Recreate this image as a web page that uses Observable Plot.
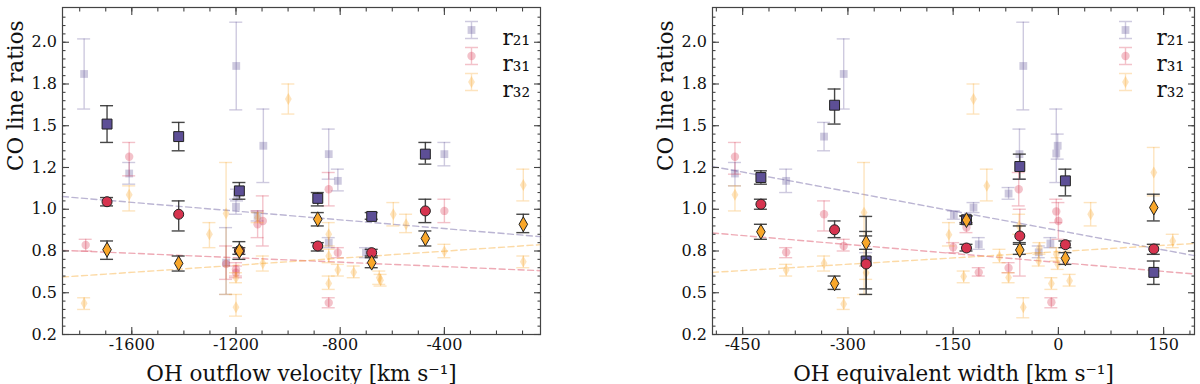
<!DOCTYPE html>
<html><head><meta charset="utf-8">
<script src="https://cdn.jsdelivr.net/npm/d3@7"></script>
<script src="https://cdn.jsdelivr.net/npm/@observablehq/plot@0.6"></script>
<style>
body{margin:0;background:#fff;}
#wrap{display:flex;width:1200px;height:384px;overflow:hidden;}
#wrap svg{display:block;flex:none;font-family:"DejaVu Serif" !important;}
#wrap svg text, #wrap svg g{font-family:"DejaVu Serif" !important;}
#wrap svg g[aria-label$="tick label"]{font-size:16px !important;}
</style></head><body><div id="wrap"></div>
<script>
// ---------- shared ----------
const seriesKeys = ["r21", "r31", "r32"];
const seriesLabels = ["r₂₁", "r₃₁", "r₃₂"];
const seriesColors = ["#5d4f96", "#d6344f", "#f9a72a"];
const seriesSymbols = ["square", "circle", "diamond"];
const yLabel = "CO line ratios";
const yDomain = [0.25, 2.208];
const yTicks = [0.25, 0.5, 0.75, 1.0, 1.25, 1.5, 1.75, 2.0];
const yTickLabels = ["0.2", "0.5", "0.8", "1.0", "1.2", "1.5", "1.8", "2.0"];

// ---------- left panel: OH outflow velocity ----------
const velLabel = "OH outflow velocity [km s⁻¹]";
const velDomain = [-1866, -31];
const velTicks = [-1600, -1200, -800, -400];
const velTickLabels = ["-1600", "-1200", "-800", "-400"];
const velMinorStep = 100;

const velX = [-1695, -1420, -1187, -886, -679, -473, -97];
const velR21 = [1.51, 1.435, 1.11, 1.065, 0.957, 1.33, null];
const velR21Err = [[1.40, 1.62], [1.35, 1.52], [1.06, 1.16], [1.02, 1.10], [0.94, 0.98], [1.27, 1.40], null];
const velR31 = [1.045, 0.97, 0.752, 0.78, 0.74, 0.99, null];
const velR31Err = [[1.02, 1.07], [0.87, 1.05], [0.70, 0.806], [0.75, 0.80], [0.72, 0.76], [0.92, 1.06], null];
const velR32 = [0.758, 0.676, 0.75, 0.94, 0.68, 0.825, 0.91];
const velR32Err = [[0.70, 0.81], [0.63, 0.72], [0.73, 0.77], [0.90, 0.98], [0.65, 0.71], [0.78, 0.87], [0.86, 0.97]];

// faded (full sample): [x, value, low, high]
const velAllR21 = [
  [-1783, 1.81, 1.60, 2.02], [-1610, 1.214, 1.15, 1.28], [-1238, 0.68, 0.49, 0.89],
  [-1200, 1.015, 0.97, 1.06], [-1196, 1.09, 1.05, 1.12], [-1199, 1.858, 1.595, 2.12],
  [-1117, 0.96, 0.93, 0.99], [-1095, 1.38, 1.16, 1.60], [-844, 1.33, 1.18, 1.48],
  [-809, 1.17, 1.11, 1.24], [-844, 0.80, 0.77, 0.83], [-701, 0.74, 0.71, 0.77],
  [-400, 1.33, 1.26, 1.40]
];
const velAllR31 = [
  [-1777, 0.786, 0.75, 0.82], [-1610, 1.314, 1.20, 1.40], [-1238, 0.672, 0.58, 0.78],
  [-1200, 0.64, 0.60, 0.68], [-1200, 0.62, 0.59, 0.66], [-1117, 0.91, 0.83, 0.99],
  [-1097, 0.93, 0.78, 1.08], [-844, 1.12, 1.02, 1.22], [-809, 0.74, 0.71, 0.77],
  [-844, 0.44, 0.41, 0.47], [-400, 0.99, 0.92, 1.06]
];
const velAllR32 = [
  [-1783, 0.437, 0.40, 0.47], [-1610, 1.087, 0.99, 1.14], [-1302, 0.85, 0.77, 0.92],
  [-1238, 0.975, 0.49, 1.28], [-1200, 0.413, 0.36, 0.49], [-1200, 0.59, 0.56, 0.62],
  [-1097, 0.676, 0.63, 0.72], [-999, 1.66, 1.57, 1.75], [-1117, 0.95, 0.92, 0.98],
  [-844, 0.85, 0.78, 0.92], [-844, 0.72, 0.68, 0.76], [-844, 0.556, 0.52, 0.60],
  [-809, 0.636, 0.60, 0.67], [-748, 0.622, 0.59, 0.66], [-650, 0.59, 0.55, 0.63],
  [-645, 0.575, 0.54, 0.61], [-596, 0.97, 0.90, 1.04], [-547, 0.91, 0.86, 0.97],
  [-400, 0.748, 0.71, 0.79], [-97, 1.145, 1.05, 1.24], [-97, 0.686, 0.65, 0.72]
];
// dashed linear fits, values at the two ends of the x range
const velFitR21 = [1.076, 0.836];
const velFitR31 = [0.754, 0.632];
const velFitR32 = [0.594, 0.788];

// ---------- right panel: OH equivalent width ----------
const ewLabel = "OH equivalent width [km s⁻¹]";
const ewDomain = [-493, 194];
const ewTicks = [-450, -300, -150, 0, 150];
const ewTickLabels = ["-450", "-300", "-150", "0", "150"];
const ewMinorStep = 37.5;

const ewX = [-424, -319, -274, -131, -55, 10, 136];
const ewR21 = [1.19, 1.623, 0.69, 0.937, 1.256, 1.17, 0.622];
const ewR21Err = [[1.15, 1.23], [1.51, 1.72], [0.49, 0.957], [0.92, 0.96], [1.18, 1.33], [1.08, 1.24], [0.55, 0.69]];
const ewR31 = [1.03, 0.877, 0.672, 0.768, 0.84, 0.788, 0.762];
const ewR31Err = [[1.0, 1.06], [0.83, 0.93], [0.523, 0.867], [0.75, 0.79], [0.79, 0.90], [0.77, 0.81], [0.73, 0.79]];
const ewR32 = [0.865, 0.556, 0.80, 0.935, 0.756, 0.706, 1.01];
const ewR32Err = [[0.82, 0.91], [0.52, 0.60], [0.76, 0.84], [0.91, 0.96], [0.73, 0.80], [0.67, 0.74], [0.93, 1.09]];

const ewAllR21 = [
  [-461, 1.214, 1.14, 1.28], [-388, 1.17, 1.10, 1.24], [-334, 1.435, 1.35, 1.52],
  [-306, 1.81, 1.60, 2.02], [-274, 0.70, 0.66, 0.74], [-149, 0.967, 0.94, 0.99],
  [-121, 1.01, 0.98, 1.04], [-113.5, 0.79, 0.76, 0.83], [-71, 1.094, 1.06, 1.13],
  [-55.5, 1.33, 1.18, 1.48], [-50, 1.858, 1.595, 2.12], [-28, 0.742, 0.71, 0.78],
  [-11.4, 0.795, 0.77, 0.83], [-3, 1.334, 1.16, 1.60], [-1, 1.38, 1.30, 1.45]
];
const ewAllR31 = [
  [-461, 1.314, 1.21, 1.40], [-388, 0.742, 0.71, 0.77], [-334, 0.97, 0.87, 1.05],
  [-306, 0.78, 0.75, 0.82], [-150, 0.772, 0.74, 0.80], [-131, 0.89, 0.86, 0.92],
  [-113.5, 0.622, 0.60, 0.65], [-71, 0.648, 0.62, 0.68], [-56.5, 1.12, 1.02, 1.22],
  [-55, 0.84, 0.60, 1.0], [-10, 0.443, 0.41, 0.47], [-3, 0.987, 0.92, 1.06],
  [0, 0.93, 0.82, 1.04]
];
const ewAllR32 = [
  [-461, 1.087, 0.99, 1.14], [-388, 0.636, 0.60, 0.67], [-334, 0.676, 0.63, 0.72],
  [-306, 0.433, 0.40, 0.47], [-277, 0.98, 0.49, 1.28], [-274, 0.62, 0.58, 0.66],
  [-156, 0.848, 0.78, 0.92], [-135, 0.598, 0.56, 0.63], [-121, 1.66, 1.57, 1.75],
  [-102, 1.14, 1.05, 1.24], [-84, 0.716, 0.68, 0.76], [-71, 0.592, 0.56, 0.62],
  [-56, 0.90, 0.85, 0.97], [-50, 0.413, 0.35, 0.47], [-28, 0.69, 0.66, 0.74],
  [-27, 0.77, 0.73, 0.80], [-10, 0.556, 0.52, 0.59], [-3, 0.73, 0.69, 0.77],
  [-1, 0.672, 0.64, 0.71], [16, 0.572, 0.54, 0.61], [46, 0.97, 0.90, 1.04],
  [136, 1.22, 1.08, 1.37], [163, 0.81, 0.77, 0.85]
];
const ewFitR21 = [1.256, 0.722];
const ewFitR31 = [0.858, 0.612];
const ewFitR32 = [0.622, 0.795];

// ---------- drawing ----------
const FONT = "DejaVu Serif";
const boldR = [5.6, 5.0, 4.5];
const fadedR = [4.4, 4.2, 3.6];
const FADE = 0.3;
const errSym = {draw(ctx) {
  ctx.moveTo(0, -8.5); ctx.lineTo(0, 8.5);
  ctx.moveTo(-6.5, -8.5); ctx.lineTo(6.5, -8.5);
  ctx.moveTo(-6.5, 8.5); ctx.lineTo(6.5, 8.5);
}};

function errMarks(rows, color, opacity) {
  const o = {stroke: color, strokeOpacity: opacity, strokeWidth: 1.4};
  return [
    Plot.ruleX(rows, {x: "x", y1: "lo", y2: "hi", ...o}),
    Plot.ruleY(rows, {y: "lo", x1: "x", x2: "x", insetLeft: -6.5, insetRight: -6.5, ...o}),
    Plot.ruleY(rows, {y: "hi", x1: "x", x2: "x", insetLeft: -6.5, insetRight: -6.5, ...o})
  ];
}

function panel(cfg) {
  const marks = [];
  seriesKeys.forEach((k, i) => {
    const pts = cfg.domain.map((xv, j) => ({x: xv, v: cfg.fits[i][j]}));
    marks.push(Plot.line(pts, {x: "x", y: "v", stroke: seriesColors[i], strokeOpacity: 0.42,
      strokeWidth: 1.4, strokeDasharray: "6,3.5"}));
  });
  seriesKeys.forEach((k, i) => {
    const rows = cfg.all[i].map(([x, v, lo, hi]) => ({x, v, lo, hi}));
    marks.push(...errMarks(rows, seriesColors[i], FADE));
    marks.push(Plot.dot(rows, {x: "x", y: "v", symbol: seriesSymbols[i], r: fadedR[i],
      fill: seriesColors[i], fillOpacity: FADE, stroke: null}));
  });
  seriesKeys.forEach((k, i) => {
    const rows = cfg.boldX.map((x, j) => cfg.bold[i][j] == null ? null :
      ({x, v: cfg.bold[i][j], lo: cfg.boldErr[i][j][0], hi: cfg.boldErr[i][j][1]})).filter(d => d);
    marks.push(...errMarks(rows, "#333", 0.9));
    marks.push(Plot.dot(rows, {x: "x", y: "v", symbol: seriesSymbols[i], r: boldR[i],
      fill: seriesColors[i], stroke: "#222", strokeWidth: 1}));
  });
  // legend
  seriesKeys.forEach((k, i) => {
    const dy = 22.5 + 26 * i;
    marks.push(Plot.dot([k], {frameAnchor: "top-right", dx: -69, dy, symbol: errSym,
      fill: "none", stroke: seriesColors[i], strokeOpacity: FADE, strokeWidth: 1.4}));
    marks.push(Plot.dot([k], {frameAnchor: "top-right", dx: -69, dy, symbol: seriesSymbols[i],
      r: fadedR[i], fill: seriesColors[i], fillOpacity: FADE, stroke: null}));
    marks.push(Plot.text([seriesLabels[i]], {frameAnchor: "top-right", dx: -38, dy,
      textAnchor: "start", fontSize: 21.5, fontFamily: FONT, fill: "#111"}));
  });
  // axes (ticks pointing inward)
  const minorX = d3.range(Math.ceil(cfg.domain[0] / cfg.minorStep) * cfg.minorStep, cfg.domain[1], cfg.minorStep);
  const minorY = d3.range(0.25, 2.2, 0.05);
  const tickStyle = {stroke: "#444", strokeWidth: 1.1, label: null, fontFamily: FONT};
  const blank = () => "";
  marks.push(
    Plot.axisX(cfg.ticks, {anchor: "bottom", tickSize: -7, tickPadding: 11, fontSize: 16, fill: "#111",
      tickFormat: d => cfg.tickLabels[cfg.ticks.indexOf(d)], ...tickStyle}),
    Plot.axisX(minorX, {anchor: "bottom", tickSize: -3.5, tickFormat: blank, ...tickStyle}),
    Plot.axisX(cfg.ticks, {anchor: "top", tickSize: -7, tickFormat: blank, ...tickStyle}),
    Plot.axisX(minorX, {anchor: "top", tickSize: -3.5, tickFormat: blank, ...tickStyle}),
    Plot.axisY(yTicks, {anchor: "left", tickSize: -7, tickPadding: 12.5, fontSize: 16, fill: "#111",
      tickFormat: d => yTickLabels[yTicks.indexOf(d)], ...tickStyle}),
    Plot.axisY(minorY, {anchor: "left", tickSize: -3.5, tickFormat: blank, ...tickStyle}),
    Plot.axisY(yTicks, {anchor: "right", tickSize: -7, tickFormat: blank, ...tickStyle}),
    Plot.axisY(minorY, {anchor: "right", tickSize: -3.5, tickFormat: blank, ...tickStyle}),
    Plot.frame({stroke: "#444", strokeWidth: 1.2}),
    Plot.text([cfg.xLabel], {frameAnchor: "bottom", dy: 46, lineAnchor: "bottom", fontSize: 21.5,
      fontFamily: FONT, fill: "#111"}),
    Plot.text([yLabel], {frameAnchor: "left", dx: -46, rotate: -90, fontSize: 21.5,
      fontFamily: FONT, fill: "#111"})
  );
  return Plot.plot({
    width: 600, height: 384,
    marginLeft: cfg.marginLeft, marginRight: cfg.marginRight, marginTop: 7, marginBottom: 50,
    x: {type: "linear", domain: cfg.domain},
    y: {type: "linear", domain: yDomain},
    style: {fontFamily: FONT, background: "white", overflow: "visible"},
    marks
  });
}

const wrap = document.getElementById("wrap");
wrap.append(panel({
  domain: velDomain, ticks: velTicks, tickLabels: velTickLabels, minorStep: velMinorStep,
  xLabel: velLabel, marginLeft: 62, marginRight: 60,
  boldX: velX, bold: [velR21, velR31, velR32], boldErr: [velR21Err, velR31Err, velR32Err],
  all: [velAllR21, velAllR31, velAllR32], fits: [velFitR21, velFitR31, velFitR32]
}));
wrap.append(panel({
  domain: ewDomain, ticks: ewTicks, tickLabels: ewTickLabels, minorStep: ewMinorStep,
  xLabel: ewLabel, marginLeft: 112, marginRight: 6,
  boldX: ewX, bold: [ewR21, ewR31, ewR32], boldErr: [ewR21Err, ewR31Err, ewR32Err],
  all: [ewAllR21, ewAllR31, ewAllR32], fits: [ewFitR21, ewFitR31, ewFitR32]
}));
</script></body></html>
